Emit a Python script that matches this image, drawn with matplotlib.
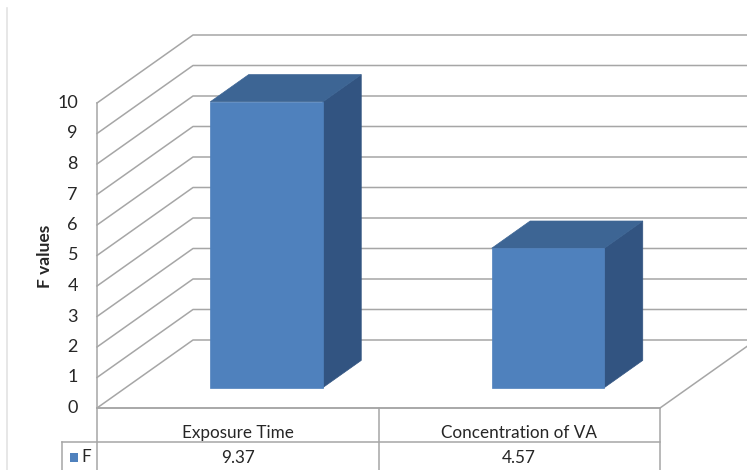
import matplotlib
matplotlib.use("Agg")
import matplotlib.pyplot as plt
from matplotlib.patches import Polygon, Rectangle

# data
categories = ["Exposure Time", "Concentration of VA"]
f_values = [9.37, 4.57]
y_ticks = list(range(0, 11))
series_name = "F"
y_label = "F values"

plt.rcParams["font.family"] = ["Lato", "DejaVu Sans"]

# projection of (category units, value, depth 0..1) onto the picture, in pixels
X0, Y0 = 97, 408
CAT_W = 281.5
UNIT = 30.5
DX, DY = 96, 68


def proj(u, v, d):
    return (X0 + u * CAT_W + d * DX, Y0 - v * UNIT - d * DY)


grid_c = "#A6A6A6"
front_c = "#4F81BD"
top_c = "#3D6594"
side_c = "#325481"
text_c = "#262626"

fig = plt.figure(figsize=(7.47, 4.70), dpi=100)
ax = fig.add_axes([0, 0, 1, 1])
ax.set_xlim(0, 747)
ax.set_ylim(470, 0)
ax.axis("off")

n = len(categories)
vmax = max(y_ticks)

# left border of chart area
ax.plot([7, 7], [8, 470], color="#E3E3E3", lw=1.2)

# walls and gridlines
for v in y_ticks:
    a = proj(0, v, 0)
    b = proj(0, v, 1)
    c = proj(n, v, 1)
    ax.plot([a[0], b[0], c[0]], [a[1], b[1], c[1]], color=grid_c, lw=1.1, zorder=1)
    ax.text(a[0] - 19, a[1], str(v), ha="right", va="center", fontsize=13, color=text_c)

# front edge of side wall
p0, p1 = proj(0, 0, 0), proj(0, vmax, 0)
ax.plot([p0[0], p1[0]], [p0[1], p1[1]], color=grid_c, lw=1.1, zorder=1)
# floor edges
f0, f1, f2 = proj(0, 0, 0), proj(n, 0, 0), proj(n, 0, 1)
ax.plot([f0[0], f1[0], f2[0]], [f0[1], f1[1], f2[1]], color=grid_c, lw=1.1, zorder=1)

# bars
bw, bd = 0.4, 0.4
d0, d1 = 0.5 - bd / 2, 0.5 + bd / 2
for i, val in enumerate(f_values):
    u0 = i + 0.5 - bw / 2
    u1 = i + 0.5 + bw / 2
    front = [proj(u0, 0, d0), proj(u1, 0, d0), proj(u1, val, d0), proj(u0, val, d0)]
    top = [proj(u0, val, d0), proj(u1, val, d0), proj(u1, val, d1), proj(u0, val, d1)]
    side = [proj(u1, 0, d0), proj(u1, 0, d1), proj(u1, val, d1), proj(u1, val, d0)]
    ax.add_patch(Polygon(side, closed=True, fc=side_c, ec=side_c, lw=0.5, zorder=3))
    ax.add_patch(Polygon(top, closed=True, fc=top_c, ec=top_c, lw=0.5, zorder=3))
    ax.add_patch(Polygon(front, closed=True, fc=front_c, ec=front_c, lw=0.5, zorder=4))

# axis title
ax.text(45, 256, y_label, rotation=90, ha="center", va="center",
        fontsize=12.5, fontweight="bold", color=text_c)

# data table
row1, row2, row3 = 408, 442, 476
leg_x = 62
ax.plot([X0, X0 + n * CAT_W], [row1, row1], color=grid_c, lw=1.1)
ax.plot([leg_x, X0 + n * CAT_W], [row2, row2], color=grid_c, lw=1.1)
ax.plot([leg_x, X0 + n * CAT_W], [row3, row3], color=grid_c, lw=1.1)
ax.plot([leg_x, leg_x], [row2, row3], color=grid_c, lw=1.1)
for k in range(n + 1):
    xk = X0 + k * CAT_W
    ax.plot([xk, xk], [row1, row3], color=grid_c, lw=1.1)
for i, (cat, val) in enumerate(zip(categories, f_values)):
    xc = X0 + (i + 0.5) * CAT_W
    ax.text(xc, (row1 + row2) / 2 + 8, cat, ha="center", va="center", fontsize=12.3, color=text_c)
    ax.text(xc, 458, f"{val:.2f}", ha="center", va="center", fontsize=12.3, color=text_c)
ax.add_patch(Rectangle((70, 453), 8, 9, fc=front_c, ec="none"))
ax.text(81, 457, series_name, ha="left", va="center", fontsize=12.3, color=text_c)

fig.savefig("out.png", dpi=100)
